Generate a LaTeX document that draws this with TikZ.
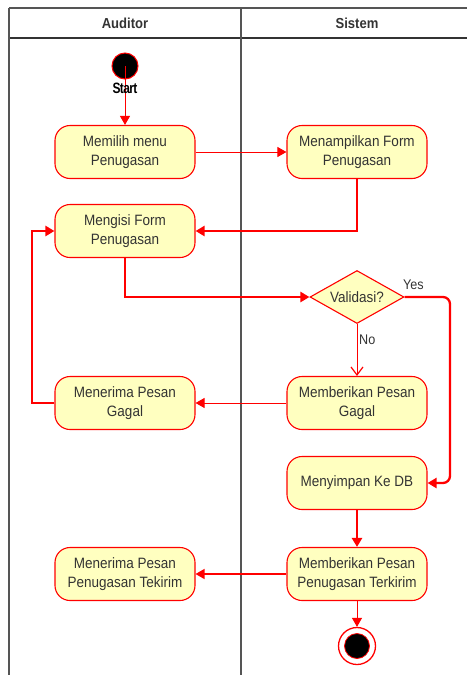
\documentclass[tikz,border=0pt]{standalone}
\usepackage{fontspec}
\setmainfont{Liberation Sans}
\newfontfamily\diagfont[FakeStretch=0.9]{Liberation Sans}
\newfontfamily\startfont[FakeStretch=0.8]{Liberation Sans}
\usetikzlibrary{shapes.geometric,arrows.meta}
\definecolor{actfill}{HTML}{FFFFC0}
\definecolor{txtgray}{HTML}{333333}
\definecolor{lanegray}{HTML}{555555}

\begin{document}
\begin{tikzpicture}[x=1pt,y=-1pt,
  act/.style={draw=red, line width=1.1pt, fill=actfill, rounded corners=15pt,
    minimum width=140pt, minimum height=53pt, inner sep=0pt, align=center,
    text=txtgray, font=\diagfont\fontsize{15}{19}\selectfont},
  decision/.style={shape=diamond, draw=red, line width=1.1pt, fill=actfill,
    minimum width=94pt, minimum height=53pt, inner sep=0pt, aspect=1.77,
    text=txtgray, font=\diagfont\fontsize{15}{19}\selectfont},
  flow/.style={draw=red, line width=1pt, -{Triangle[length=9pt,width=10pt]}},
  heavyflow/.style={flow, line width=2.3pt},
  openflow/.style={draw=red, line width=1pt, -{Straight Barb[length=8pt,width=12pt,line width=1.2pt]}},
  guard/.style={text=txtgray, font=\diagfont\fontsize{14}{14}\selectfont, inner sep=0pt},
  lanehead/.style={text=txtgray, font=\diagfont\fontsize{14.5}{15}\selectfont\bfseries},
  laneline/.style={draw=lanegray, line width=1.6pt}
]
\useasboundingbox (0,0) rectangle (467,675);

% swimlane frame
\draw[laneline] (9,8) -- (467,8);
\draw[laneline, draw=black!80] (9,38) -- (467,38);
\draw[laneline] (9,8) -- (9,675);
\draw[laneline] (241,8) -- (241,675);
\node[lanehead] (hauditor) at (125,23) {Auditor};
\node[lanehead] (hsistem) at (357,23) {Sistem};

% initial state
\node[circle, draw=red, line width=1pt, fill=black, minimum size=26pt, inner sep=0pt] (start) at (125,66) {};

% activities
\node[act] (memilih) at (125,152) {Memilih menu\\Penugasan};
\node[act] (tampil) at (357,152) {Menampilkan Form\\Penugasan};
\node[act] (isi) at (125,231) {Mengisi Form\\Penugasan};
\node[decision] (valid) at (357,297) {Validasi?};
\node[act] (gagalS) at (357,403) {Memberikan Pesan\\Gagal};
\node[act] (gagalA) at (125,403) {Menerima Pesan\\Gagal};
\node[act] (simpan) at (357,483) {Menyimpan Ke DB};
\node[act] (kirimS) at (357,574) {Memberikan Pesan\\Penugasan Terkirim};
\node[act] (kirimA) at (125,574) {Menerima Pesan\\Penugasan Tekirim};

% final state
\node[circle, draw=red, line width=1.3pt, fill=white, minimum size=37pt, inner sep=0pt] (final) at (357,646) {};
\node[circle, draw=red, line width=0.8pt, fill=black, minimum size=25pt, inner sep=0pt] (finalcore) at (final.center) {};

% connectors
\draw[flow] (start.center) -- (memilih.north);
\node[text=black, font=\startfont\fontsize{15}{15}\selectfont\bfseries, inner sep=0pt] (startlbl) at (125,88) {S\kern-0.6pt t\kern-0.6pt a\kern-0.6pt r\kern-0.6pt t};
\draw[flow] (memilih.east) -- (tampil.west);
\draw[heavyflow] (tampil.south) |- (isi.east);
\draw[heavyflow] (isi.south) |- (valid.west);
\coordinate (yescorner) at (450,297);
\draw[heavyflow, rounded corners=7pt] (valid.east) -- (yescorner) |- (simpan.east);
\node[guard, anchor=west] (yes) at (403,285) {Yes};
\draw[openflow] (valid.south) -- (gagalS.north);
\node[guard, anchor=west] (no) at (359,340) {No};
\draw[flow] (gagalS.west) -- (gagalA.east);
\coordinate (backturn) at (32,403);
\draw[heavyflow] (gagalA.west) -- (backturn) |- (isi.west);
\draw[heavyflow] (simpan.south) -- (kirimS.north);
\draw[flow, line width=1.4pt] (kirimS.west) -- (kirimA.east);
\draw[flow] (kirimS.south) -- (final.north);
\end{tikzpicture}
\end{document}
